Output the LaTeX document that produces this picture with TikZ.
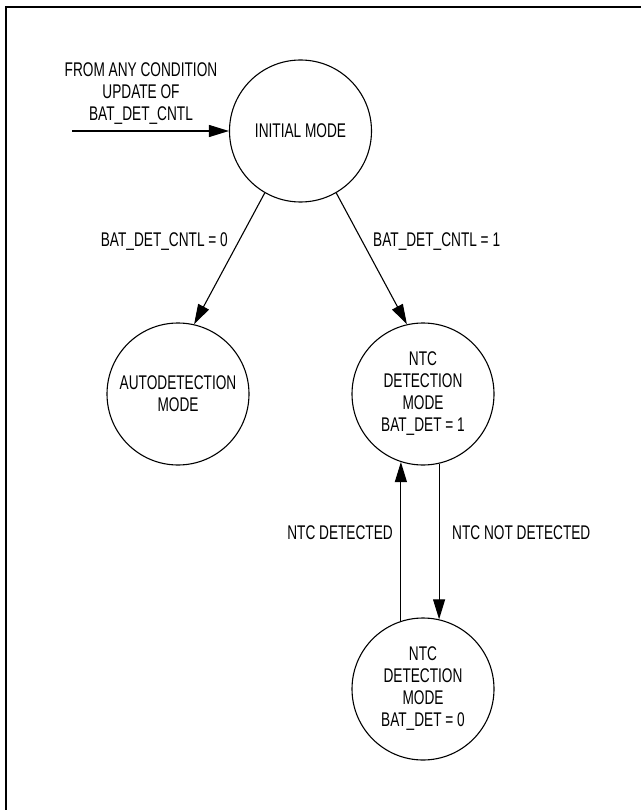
\documentclass[tikz,border=0pt]{standalone}
\usepackage{fontspec}
\setmainfont[FakeStretch=0.69]{Liberation Sans}
\usetikzlibrary{arrows.meta}
\begin{document}
\begin{tikzpicture}[x=1pt,y=-1pt,
  every node/.style={font=\fontsize{19.8}{22}\selectfont},
  state/.style={circle,draw,line width=1.1pt,minimum size=142pt,inner sep=0pt,align=center},
  conn/.style={line width=1.1pt,-{Triangle[length=20pt,width=12pt]}},
  lbl/.style={inner sep=0pt}]
\useasboundingbox (0,0) rectangle (641,810);
\draw[line width=2pt] (6,810) -- (6,7) -- (641,7);

\node[state] (init) at (300.5,131) {INITIAL MODE};
\node[state] (auto) at (178,394) {AUTODETECTION\\MODE};
\node[state] (ntc1) at (423,394) {NTC\\DETECTION\\MODE\\BAT\_DET = 1};
\node[state] (ntc0) at (423,689) {NTC\\DETECTION\\MODE\\BAT\_DET = 0};

\node[lbl,align=center] (from) at (141,94) {FROM ANY CONDITION\\UPDATE OF\\BAT\_DET\_CNTL};
\coordinate (src) at (72,131);

\node[lbl,anchor=east] (l0) at (228,242) {BAT\_DET\_CNTL = 0};
\node[lbl,anchor=west] (l1) at (373,242) {BAT\_DET\_CNTL = 1};
\node[lbl,anchor=east] (l2) at (393,533) {NTC DETECTED};
\node[lbl,anchor=west] (l3) at (452,533) {NTC NOT DETECTED};

\draw[conn] (src) -- (init.west);
\draw[conn] (init.240.5) -- (auto.77);
\draw[conn] (init.300) -- (ntc1.103.5);
\draw[conn] (ntc1.283) -- (ntc0.77);
\draw[conn] (ntc0.108) -- (ntc1.252);
\end{tikzpicture}
\end{document}
